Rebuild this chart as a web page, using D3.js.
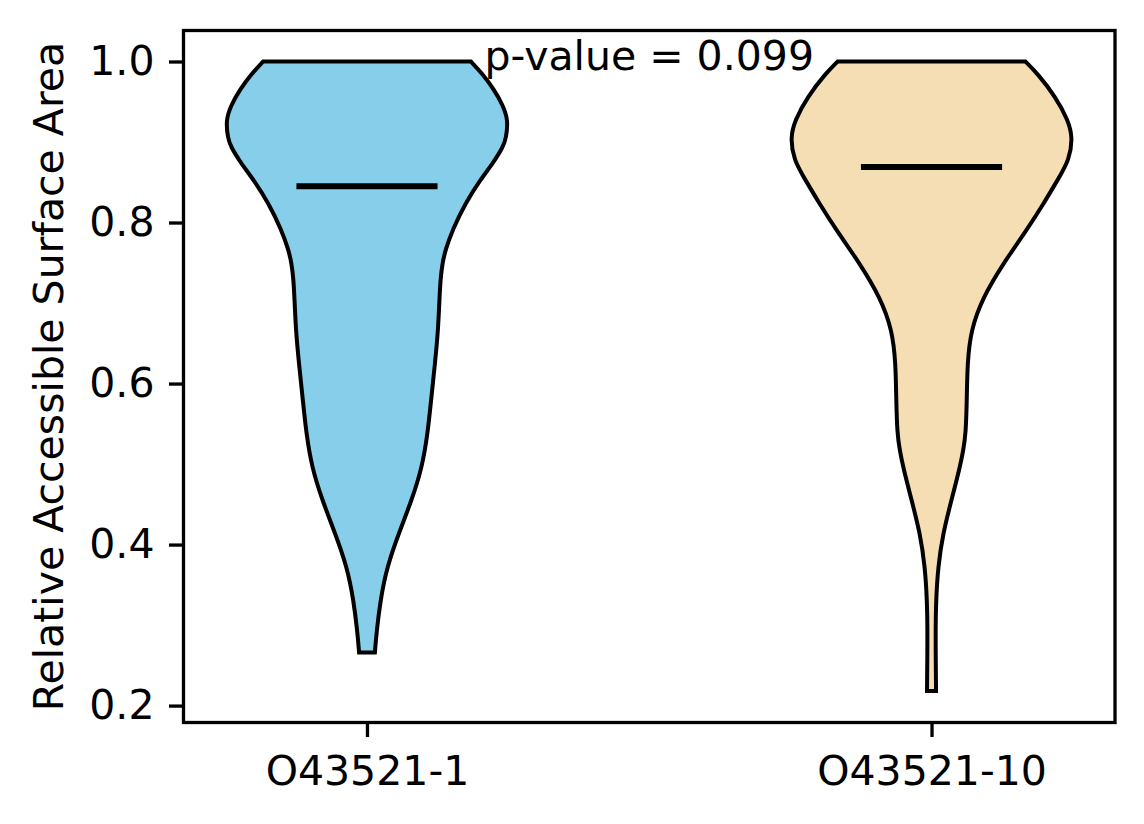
<!DOCTYPE html>
<html>
<head>
<meta charset="utf-8">
<script src="https://cdn.jsdelivr.net/npm/d3@7/dist/d3.min.js"></script>
<style>
    html, body { margin: 0; padding: 0; background: #fff; }
    svg text { font-family: "DejaVu Sans", sans-serif; fill: #000; }
</style>
</head>
<body>
<div id="chart"></div>
<script>
// categories / positions
var categories = ['O43521-1', 'O43521-10'];
var positions = [1, 2];
var colors = ['#87CEEB', '#F5DEB3'];

// kde profile: value on y axis, relative density
var kdeValues1 = [1.000, 0.985, 0.965, 0.945, 0.927, 0.905, 0.894, 0.874, 0.853, 0.824, 0.791,
    0.766, 0.750, 0.730, 0.707, 0.666, 0.625, 0.579, 0.538, 0.496, 0.455, 0.414, 0.372,
    0.331, 0.290, 0.266];
var kdeDensity1 = [0.736, 0.817, 0.901, 0.965, 1.000, 0.986, 0.965, 0.894, 0.803, 0.697, 0.606,
    0.556, 0.535, 0.521, 0.514, 0.504, 0.482, 0.454, 0.430, 0.391, 0.317, 0.225, 0.141,
    0.095, 0.067, 0.056];

var kdeValues2 = [1.000, 0.986, 0.956, 0.927, 0.906, 0.878, 0.853, 0.824, 0.791, 0.750, 0.707,
    0.666, 0.625, 0.579, 0.538, 0.517, 0.496, 0.455, 0.414, 0.372, 0.331, 0.290, 0.218];
var kdeDensity2 = [0.665, 0.746, 0.880, 0.968, 1.000, 0.977, 0.894, 0.796, 0.676, 0.511, 0.363,
    0.278, 0.254, 0.250, 0.243, 0.225, 0.201, 0.141, 0.081, 0.046, 0.032, 0.028, 0.032];

var medians = [0.845, 0.869];
var pValue = 0.099;

var yTicks = [0.2, 0.4, 0.6, 0.8, 1.0];

function renderViolin () {
    const width = 1144;
    const height = 824;
    const margins = { top: 30.5, right: 29, bottom: 101.5, left: 183.5 };

    const svg = d3.select('#chart').append('svg')
        .attr('width', width)
        .attr('height', height);

    const x = d3.scaleLinear()
        .domain([0.675, 2.325])
        .range([margins.left, width - margins.right]);
    const y = d3.scaleLinear()
        .domain([0.179, 1.0385])
        .range([height - margins.bottom, margins.top]);

    const series = [
        { values: kdeValues1, density: kdeDensity1 },
        { values: kdeValues2, density: kdeDensity2 }
    ];

    // 小提琴主体
    series.forEach((s, i) => {
        const w = d3.scaleLinear()
            .domain([0, d3.max(s.density)])
            .range([0, 0.25]);
        const pts = s.values.map((v, j) => ({ v: v, d: s.density[j] }));
        const area = d3.area()
            .y((d) => y(d.v))
            .x0((d) => x(positions[i] - w(d.d)))
            .x1((d) => x(positions[i] + w(d.d)))
            .curve(d3.curveBasis);
        svg.append('path')
            .datum(pts)
            .attr('d', area)
            .attr('fill', colors[i])
            .attr('stroke', '#000')
            .attr('stroke-width', 4)
            .attr('stroke-linejoin', 'miter');
    });

    // median lines
    svg.selectAll('line.median')
        .data(medians)
        .enter()
        .append('line')
        .attr('class', 'median')
        .attr('x1', (d, i) => x(positions[i] - 0.125))
        .attr('x2', (d, i) => x(positions[i] + 0.125))
        .attr('y1', (d) => y(d))
        .attr('y2', (d) => y(d))
        .attr('stroke', '#000')
        .attr('stroke-width', 6);

    // axes
    const xAxis = d3.axisBottom(x)
        .tickValues(positions)
        .tickFormat((d, i) => categories[i])
        .tickSize(14.5)
        .tickPadding(19)
        .tickSizeOuter(0);
    const yAxis = d3.axisLeft(y)
        .tickValues(yTicks)
        .tickFormat(d3.format('.1f'))
        .tickSize(14.5)
        .tickPadding(14.5)
        .tickSizeOuter(0);

    const gx = svg.append('g')
        .attr('transform', `translate(0,${height - margins.bottom})`)
        .call(xAxis);
    const gy = svg.append('g')
        .attr('transform', `translate(${margins.left},0)`)
        .call(yAxis);

    [gx, gy].forEach((g) => {
        g.select('.domain').remove();
        g.selectAll('.tick line').attr('stroke', '#000').attr('stroke-width', 3.3);
        g.selectAll('.tick text')
            .style('font-family', '"DejaVu Sans", sans-serif')
            .style('font-size', '41px')
            .attr('fill', '#000');
    });

    // frame
    svg.append('rect')
        .attr('x', margins.left)
        .attr('y', margins.top)
        .attr('width', width - margins.left - margins.right)
        .attr('height', height - margins.top - margins.bottom)
        .attr('fill', 'none')
        .attr('stroke', '#000')
        .attr('stroke-width', 3.3);

    // y label
    svg.append('text')
        .attr('transform', `translate(63,${(margins.top + height - margins.bottom) / 2}) rotate(-90)`)
        .attr('text-anchor', 'middle')
        .style('font-size', '41px')
        .text('Relative Accessible Surface Area');

    // p-value
    svg.append('text')
        .attr('x', x(1.5))
        .attr('y', y(1.0) + 8.5)
        .attr('text-anchor', 'middle')
        .style('font-size', '41px')
        .text(`p-value = ${pValue}`);
}

renderViolin();
</script>
</body>
</html>
